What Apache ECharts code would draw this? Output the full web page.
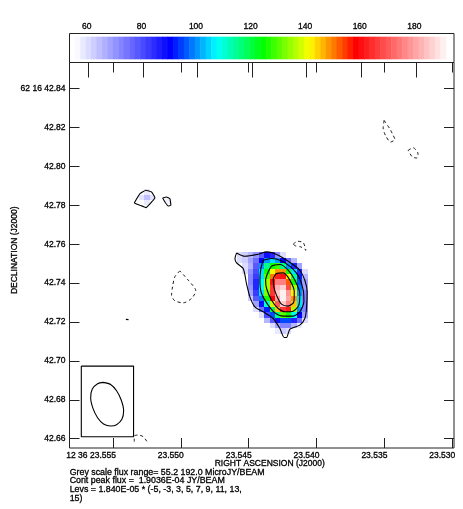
<!DOCTYPE html>
<html>
<head>
<meta charset="utf-8">
<style>
  html, body { margin: 0; padding: 0; background: #fff; }
  #main { width: 463px; height: 509px; filter: blur(0.35px); }
</style>
<script src="https://cdn.jsdelivr.net/npm/echarts@6/dist/echarts.min.js"></script>
</head>
<body>
<div id="main"></div>
<script>
const barTicks = [60, 80, 100, 120, 140, 160, 180];
const raTicks = [23.555, 23.55, 23.545, 23.54, 23.535, 23.53];
const decTicks = [42.84, 42.82, 42.8, 42.78, 42.76, 42.74, 42.72, 42.7, 42.68, 42.66];

// colour scale of the wedge, flux (microJy/beam) -> colour
const colorStops = [
  [55.2, [255, 255, 255]],
  [90, [0, 0, 255]],
  [107, [0, 255, 255]],
  [124, [0, 255, 0]],
  [141, [255, 255, 0]],
  [158, [255, 0, 0]],
  [192, [255, 255, 255]]
];

const barLevels = [
  56, 58, 60, 62, 64, 66, 68, 70, 72, 74, 76, 78, 80, 82, 84, 86, 88, 90, 92, 94, 96, 98, 100,
  102, 104, 106, 108, 110, 112, 114, 116, 118, 120, 122, 124, 126, 128, 130, 132, 134, 136, 138,
  140, 142, 144, 146, 148, 150, 152, 154, 156, 158, 160, 162, 164, 166, 168, 170, 172, 174, 176,
  178, 180, 182, 184, 186, 188, 190
];

// main source pixels
const cellRa = [23.54567, 23.54527, 23.54487, 23.54446, 23.54406, 23.54366, 23.54326, 23.54286, 23.54246, 23.54206, 23.54166, 23.54125, 23.54085];
const cellDec = [42.75451, 42.75171, 42.74891, 42.74611, 42.74331, 42.74051, 42.73771, 42.73491, 42.73211, 42.72931, 42.72651, 42.72371, 42.72091, 42.71811, 42.71531];
const fluxRows = [
  [60, 62, 65, 70, 78, 88, 85, 70, 60, 0, 0, 0, 0],
  [60, 62, 68, 75, 90, 100, 105, 100, 90, 75, 65, 0, 0],
  [0, 60, 66, 78, 100, 115, 125, 128, 115, 100, 85, 68, 0],
  [0, 60, 70, 80, 105, 125, 140, 148, 148, 125, 105, 85, 60],
  [0, 0, 72, 82, 105, 130, 150, 162, 160, 142, 115, 92, 65],
  [0, 0, 72, 85, 108, 135, 160, 175, 175, 152, 125, 95, 68],
  [0, 0, 70, 85, 108, 135, 165, 182, 186, 168, 135, 98, 68],
  [0, 0, 68, 82, 105, 132, 165, 185, 190, 178, 142, 100, 72],
  [0, 0, 62, 78, 98, 125, 158, 180, 190, 180, 148, 105, 72],
  [0, 0, 0, 68, 88, 110, 138, 170, 185, 175, 145, 105, 72],
  [0, 0, 0, 60, 75, 92, 118, 145, 165, 162, 135, 100, 72],
  [0, 0, 0, 0, 60, 80, 95, 115, 130, 125, 108, 90, 68],
  [0, 0, 0, 0, 0, 65, 78, 88, 95, 95, 85, 75, 60],
  [0, 0, 0, 0, 0, 0, 60, 68, 72, 72, 65, 58, 0],
  [0, 0, 0, 0, 0, 0, 0, 58, 62, 60, 0, 0, 0]
];
// the small patches up left
const patchCells = [
  [23.5525, 42.78416, 64],
  [23.5529, 42.78416, 59],
  [23.5521, 42.78416, 59],
  [23.5525, 42.78696, 58],
  [23.5525, 42.78136, 58],
  [23.5510, 42.78230, 57]
];

// contours as [ra, dec]
const level3 = [
  [23.54589, 42.75556], [23.54528, 42.75384], [23.5443, 42.75487], [23.54368, 42.75607],
  [23.54282, 42.75436], [23.54184, 42.75008], [23.54123, 42.74665], [23.54086, 42.74151],
  [23.54069, 42.73552], [23.54074, 42.72696], [23.54086, 42.72182], [23.54123, 42.7184],
  [23.54196, 42.71634], [23.54221, 42.71206], [23.54238, 42.71206], [23.5427, 42.71668],
  [23.54319, 42.72182], [23.54393, 42.72525], [23.54454, 42.72781], [23.54491, 42.73295],
  [23.54516, 42.7398], [23.5454, 42.74751], [23.54589, 42.75042], [23.54601, 42.75264]
];
const level5 = [
  [23.54393, 42.75179], [23.54331, 42.75264], [23.54258, 42.75144], [23.54184, 42.74802],
  [23.5413, 42.74323], [23.54098, 42.73638], [23.54093, 42.73038], [23.54123, 42.72525],
  [23.54172, 42.72302], [23.54245, 42.72302], [23.54307, 42.72473], [23.54356, 42.72867],
  [23.54405, 42.73466], [23.54417, 42.74151], [23.5441, 42.74751]
];
const level7 = [
  [23.54361, 42.74494], [23.54331, 42.7487], [23.5427, 42.74956], [23.54209, 42.74665],
  [23.54159, 42.74151], [23.54123, 42.73466], [23.5413, 42.72867], [23.54172, 42.72559],
  [23.54233, 42.72525], [23.54282, 42.72696], [23.54331, 42.73124], [23.54368, 42.73723],
  [23.54375, 42.74151]
];
const level9 = [
  [23.54319, 42.74237], [23.54295, 42.74494], [23.54245, 42.74528], [23.54196, 42.74151],
  [23.54164, 42.73552], [23.54167, 42.73038], [23.54209, 42.72816], [23.54258, 42.72918],
  [23.54295, 42.73381], [23.54314, 42.73809]
];
const blobA = [
  [23.55343, 42.78124], [23.55301, 42.78604], [23.55257, 42.78775], [23.55215, 42.7869],
  [23.55191, 42.78398], [23.55215, 42.78176], [23.55257, 42.77885], [23.55301, 42.78005]
];
const blobB = [
  [23.55134, 42.78381], [23.55105, 42.78433], [23.5508, 42.78347], [23.55073, 42.78005],
  [23.55093, 42.7797], [23.55117, 42.78176]
];
const speck = [[23.55405, 42.72135], [23.55385, 42.72125]];

const negDrop = [
  [23.55007, 42.74631], [23.55044, 42.74323], [23.55061, 42.73809], [23.55068, 42.73381],
  [23.55044, 42.7309], [23.54982, 42.72987], [23.54921, 42.7321], [23.54889, 42.73604],
  [23.54945, 42.74152]
];
const negCrescent = [
  [23.54172, 42.76001], [23.5414, 42.76155], [23.54098, 42.76086], [23.54078, 42.75693],
  [23.54115, 42.75864], [23.54154, 42.75915]
];
const negTopRight = [
  [23.53502, 42.82371], [23.53509, 42.81977], [23.53492, 42.81601], [23.53455, 42.81258],
  [23.53423, 42.81395], [23.53441, 42.81686], [23.5346, 42.81943]
];
const negRight = [
  [23.53325, 42.8083], [23.53288, 42.80967], [23.53252, 42.80659], [23.53259, 42.80436],
  [23.53293, 42.80488]
];
const negBottom = [
  [23.55343, 42.65846], [23.55343, 42.66137], [23.55313, 42.66188], [23.55277, 42.66103], [23.55245, 42.65812]
];

// beam box in the corner
const beamBox = [[23.55733, 42.69733], [23.55348, 42.69733], [23.55348, 42.66101], [23.55733, 42.66101]];
const beam = [
  [23.55571, 42.68894], [23.55517, 42.68791], [23.55473, 42.68466], [23.55439, 42.67987],
  [23.55421, 42.67439], [23.55434, 42.66993], [23.55473, 42.66719], [23.55515, 42.66651],
  [23.55569, 42.66754], [23.55613, 42.67079], [23.55647, 42.67558], [23.55664, 42.68106],
  [23.55652, 42.68552], [23.55613, 42.68826]
];

const footerLines = [
  "Grey scale flux range= 55.2 192.0 MicroJY/BEAM",
  "Cont peak flux =  1.9036E-04 JY/BEAM",
  "Levs = 1.840E-05 * (-5, -3, 3, 5, 7, 9, 11, 13,",
  "15)"
];

const FONT = '"Liberation Sans", Arial, sans-serif';
const FRAME = "#222";

function fluxColor(v) {
  for (let i = 1; i < colorStops.length; i++) {
    if (v <= colorStops[i][0]) {
      const a = colorStops[i - 1];
      const b = colorStops[i];
      const t = (v - a[0]) / (b[0] - a[0]);
      const c = a[1].map((x, k) => Math.round(x + (b[1][k] - x) * t));
      return `rgb(${c[0]},${c[1]},${c[2]})`;
    }
  }
  return "#fff";
}

function closed(pts) {
  return pts.concat([pts[0]]);
}

function contour(pts, dashed, smooth) {
  return {
    type: "line",
    xAxisIndex: 1,
    yAxisIndex: 1,
    data: pts,
    symbol: "none",
    smooth: smooth === undefined ? 0.25 : smooth,
    silent: true,
    z: 5,
    lineStyle: { color: "#000", width: dashed ? 0.9 : 1.1, type: dashed ? [3, 3] : "solid" }
  };
}

// every pixel is a rect placed through the axes
function renderCell(params, api) {
  const p0 = api.coord([api.value(0) + 0.0002, api.value(1) + 0.0014]);
  const p1 = api.coord([api.value(0) - 0.0002, api.value(1) - 0.0014]);
  const x = Math.round(p0[0]);
  const y = Math.round(p0[1]);
  return {
    type: "rect",
    shape: { x: x, y: y, width: Math.round(p1[0]) - x, height: Math.round(p1[1]) - y },
    style: { fill: fluxColor(api.value(2)) }
  };
}

function renderBand(params, api) {
  const p0 = api.coord([api.value(0) - 1, 0.89]);
  const p1 = api.coord([api.value(0) + 1, 0.11]);
  return {
    type: "rect",
    shape: { x: p0[0], y: p0[1], width: p1[0] - p0[0] + 0.5, height: p1[1] - p0[1] },
    style: { fill: fluxColor(api.value(0)) }
  };
}

const cells = [];
fluxRows.forEach((row, r) => {
  row.forEach((v, c) => {
    if (v > 0) cells.push([cellRa[c], cellDec[r], v]);
  });
});
patchCells.forEach((c) => cells.push(c));

const raRange = { min: 23.52987, max: 23.5582 };
const decRange = { min: 42.6552, max: 42.8535 };
const labelStyle = { fontFamily: FONT, fontSize: 8.5, color: "#000", fontWeight: 500, textBorderColor: "#000", textBorderWidth: 0.3 };

const option = {
  animation: false,
  backgroundColor: "#fff",
  textStyle: { fontFamily: FONT },
  grid: [
    { left: 69.5, top: 33.5, width: 384.5, height: 29, show: true, borderColor: FRAME, borderWidth: 1, outerBoundsMode: "none" },
    { left: 69.5, top: 62.5, width: 384.5, height: 385.5, show: true, borderColor: FRAME, borderWidth: 1, outerBoundsMode: "none" }
  ],
  xAxis: [
    {
      type: "value", gridIndex: 0, position: "top", min: 53.1, max: 194,
      splitLine: { show: false }, axisLine: { show: false },
      axisTick: { inside: true, length: 15, lineStyle: { color: FRAME }, customValues: barTicks },
      axisLabel: Object.assign({}, labelStyle, { margin: 2, customValues: barTicks, padding: [0, 3, 0, 0] })
    },
    {
      type: "value", gridIndex: 1, position: "bottom", inverse: true, min: raRange.min, max: raRange.max,
      splitLine: { show: false }, axisLine: { show: false },
      axisTick: { inside: true, length: 10, lineStyle: { color: FRAME }, customValues: raTicks },
      axisLabel: Object.assign({}, labelStyle, {
        margin: 3, align: "right", padding: [0, -3, 0, 0], customValues: raTicks,
        showMinLabel: true, showMaxLabel: true, hideOverlap: false,
        formatter: (v) => (Math.abs(v - 23.555) < 1e-6 ? "12 36 23.555" : v.toFixed(3))
      }),
      name: "RIGHT ASCENSION (J2000)", nameLocation: "middle", nameGap: 11, nameMoveOverlap: false,
      nameTextStyle: Object.assign({}, labelStyle, { padding: [0, 0, 0, 16] })
    },
    {
      type: "value", gridIndex: 1, position: "top", inverse: true, min: raRange.min, max: raRange.max,
      splitLine: { show: false }, axisLine: { show: false }, axisLabel: { show: false },
      axisTick: { inside: true, length: 10, lineStyle: { color: FRAME }, customValues: raTicks }
    }
  ],
  yAxis: [
    {
      type: "value", gridIndex: 0, min: 0, max: 1, show: false
    },
    {
      type: "value", gridIndex: 1, position: "left", min: decRange.min, max: decRange.max,
      splitLine: { show: false }, axisLine: { show: false },
      axisTick: { inside: true, length: 10, lineStyle: { color: FRAME }, customValues: decTicks },
      axisLabel: Object.assign({}, labelStyle, {
        margin: 4, customValues: decTicks, showMinLabel: true, showMaxLabel: true, hideOverlap: false,
        formatter: (v) => (Math.abs(v - 42.84) < 1e-6 ? "62 16 42.84" : v.toFixed(2))
      }),
      name: "DECLINATION (J2000)", nameLocation: "middle", nameGap: 50, nameMoveOverlap: false,
      nameTextStyle: Object.assign({}, labelStyle, { padding: [0, 0, 0, 10] })
    },
    {
      type: "value", gridIndex: 1, position: "right", min: decRange.min, max: decRange.max,
      splitLine: { show: false }, axisLine: { show: false }, axisLabel: { show: false },
      axisTick: { inside: true, length: 10, lineStyle: { color: FRAME }, customValues: decTicks }
    }
  ],
  series: [
    {
      type: "custom", xAxisIndex: 0, yAxisIndex: 0, renderItem: renderBand,
      data: barLevels.map((v) => [v]), encode: { x: 0 }, silent: true, z: 1
    },
    {
      type: "custom", xAxisIndex: 1, yAxisIndex: 1, renderItem: renderCell,
      data: cells, encode: { x: 0, y: 1 }, silent: true, z: 1
    },
    contour(closed(level3)),
    contour(closed(level5)),
    contour(closed(level7)),
    contour(closed(level9)),
    contour(closed(blobA), false, 0.1),
    contour(closed(blobB), false, 0.1),
    contour(speck, false, 0),
    contour(closed(negDrop), true),
    contour(closed(negCrescent), true),
    contour(closed(negTopRight), true),
    contour(closed(negRight), true),
    contour(negBottom, true),
    contour(closed(beamBox), false, 0),
    contour(closed(beam), false, 0.3)
  ],
  graphic: footerLines.map((line, i) => ({
    type: "text",
    left: 69.5,
    top: 467.5 + i * 8.7,
    style: { text: line, fontFamily: FONT, fontSize: 8.85, fontWeight: 500, fill: "#000", stroke: "#000", lineWidth: 0.3 }
  }))
};

const chart = echarts.init(document.getElementById("main"));
chart.setOption(option);
</script>
</body>
</html>
